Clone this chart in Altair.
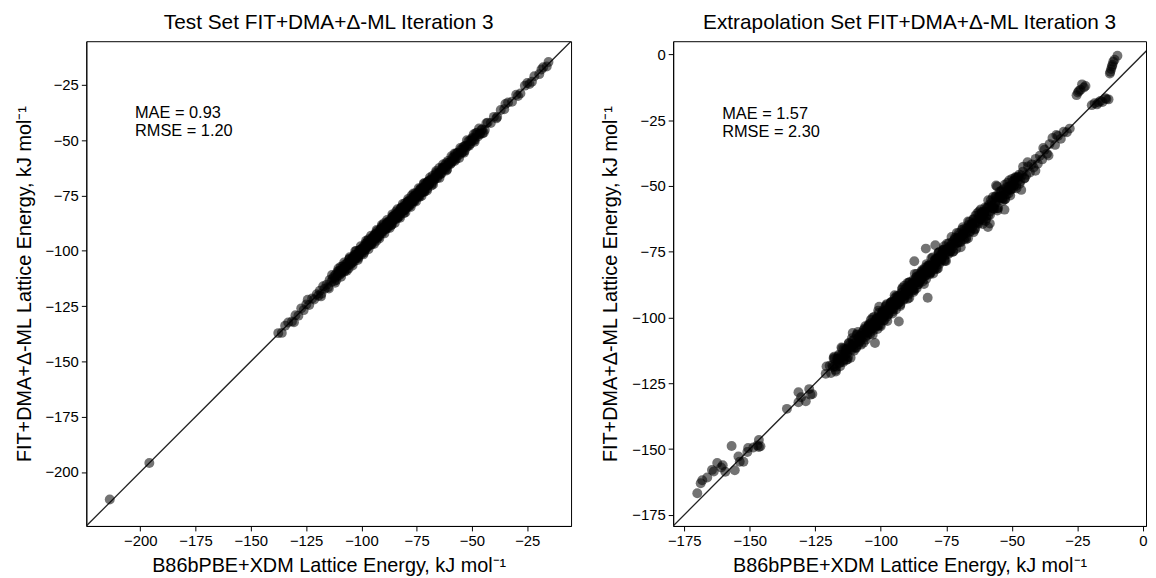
import altair as alt
import pandas as pd

# ---------------- data ----------------
test_ref = [
    -213.8, -195.9,
    -137.6, -136.0, -134.5, -133.1, -131.4, -129.8, -128.5, -127.2, -126.1, -124.9, -123.6, -122.3, -121.4, -120.2,
    -119.5, -118.8, -118.1, -117.3, -116.6, -115.8, -115.1, -114.4, -113.6, -112.9, -112.2, -111.5, -110.8, -110.2,
    -109.6, -109.1, -108.5, -108.0, -107.6, -107.1, -106.5, -106.0, -105.6, -105.0,
    -104.5, -104.1, -103.5, -103.0, -102.6, -102.0, -101.5, -101.1, -100.5, -100.0,
    -99.6, -99.0, -98.5, -98.1, -97.5, -97.0, -96.6, -96.0, -95.5, -95.1,
    -94.5, -94.0, -93.6, -93.0, -92.5, -92.1, -91.5, -91.0, -90.6, -90.0,
    -89.5, -89.1, -88.5, -88.0, -87.6, -87.0, -86.5, -86.1, -85.5, -85.0,
    -84.6, -84.0, -83.5, -83.1, -82.5, -82.0, -81.6, -81.0, -80.5, -80.1,
    -79.5, -79.0, -78.6, -78.0, -77.5, -77.1, -76.5, -76.0, -75.6, -75.0,
    -74.5, -74.1, -73.5, -73.0, -72.6, -72.0, -71.5, -71.1, -70.5, -70.0,
    -69.4, -68.7, -68.1, -67.4, -66.8, -66.1, -65.5, -64.8, -64.2, -63.5,
    -62.9, -62.2, -61.6, -60.9, -60.3,
    -104.8, -104.2, -103.6, -103.0, -102.4, -101.8, -101.2, -100.6, -100.0, -99.4,
    -98.8, -98.2, -97.6, -97.0, -96.4, -95.8, -95.2, -94.6, -94.0, -93.4,
    -92.8, -92.2, -91.6, -91.0, -90.4, -89.8, -89.2, -88.6, -88.0, -87.4,
    -86.8, -86.2, -85.6, -85.0, -84.4, -83.8, -83.2, -82.6, -82.0, -81.4,
    -80.8, -80.2, -79.6, -79.0, -78.4, -77.8, -77.2, -76.6, -76.0, -75.4,
    -74.8, -74.2, -73.6, -73.0, -72.4, -71.8, -71.2, -70.6, -70.0, -69.4,
    -59.5, -58.8, -58.0, -57.3, -56.5, -55.8, -55.0, -54.2, -53.4, -52.5,
    -51.6, -50.7, -49.8, -48.8, -47.7, -46.6, -45.4, -44.2, -42.9, -41.5,
    -40.1, -38.6, -37.0, -35.4, -33.7, -31.9, -30.0, -28.1, -26.1, -24.0,
    -21.8, -19.6, -17.8, -16.2, -15.4,
    -43.5, -39.0, -34.9, -29.2, -25.0, -22.9, -18.6,
]
test_pred = [
    -212.4, -195.9,
    -137.2, -137.1, -133.9, -132.4, -131.9, -129.1, -129.3, -126.0, -126.8, -124.2, -124.5, -121.5, -122.0, -119.6,
    -120.3, -118.0, -119.4, -116.0, -117.1, -115.3, -116.4, -113.2, -114.0, -112.4, -113.6, -110.6, -111.2, -109.1,
    -109.0, -110.1, -107.1, -108.3, -107.4, -108.6, -105.6, -106.6, -103.9, -105.1,
    -104.0, -105.3, -103.5, -101.9, -103.4, -101.7, -103.3, -99.8, -100.9, -99.2,
    -99.8, -98.0, -99.8, -97.7, -98.2, -95.4, -97.1, -95.9, -96.6, -94.4,
    -93.9, -95.0, -92.2, -93.3, -92.3, -93.6, -90.6, -91.6, -88.9, -90.1,
    -89.0, -90.3, -88.5, -86.9, -88.4, -86.7, -88.3, -84.8, -85.9, -84.2,
    -84.8, -83.0, -84.8, -82.7, -83.2, -80.4, -82.1, -80.9, -81.6, -79.4,
    -78.9, -80.0, -77.2, -78.3, -77.3, -78.6, -75.6, -76.6, -73.9, -75.1,
    -74.0, -75.3, -73.5, -71.9, -73.4, -71.7, -73.3, -69.8, -70.9, -69.2,
    -69.6, -67.7, -69.4, -67.0, -67.5, -64.5, -66.0, -64.7, -65.3, -62.8,
    -62.3, -63.2, -60.2, -61.2, -60.1,
    -106.0, -103.5, -103.8, -101.7, -103.2, -101.6, -101.7, -99.7, -101.4, -99.1,
    -98.8, -99.2, -96.5, -97.4, -95.8, -97.4, -94.4, -94.7, -92.6, -94.0,
    -94.0, -91.5, -91.8, -89.7, -91.2, -89.6, -89.7, -87.7, -89.4, -87.1,
    -86.8, -87.2, -84.5, -85.4, -83.8, -85.4, -82.4, -82.7, -80.6, -82.0,
    -82.0, -79.5, -79.8, -77.7, -79.2, -77.6, -77.7, -75.7, -77.4, -75.1,
    -74.8, -75.2, -72.5, -73.4, -71.8, -73.4, -70.4, -70.7, -68.6, -70.0,
    -60.4, -57.9, -58.3, -58.6, -55.6, -56.5, -54.2, -55.3, -52.8, -53.1,
    -50.4, -51.6, -49.3, -49.9, -46.6, -47.3, -45.0, -45.3, -42.0, -42.2,
    -39.4, -39.5, -36.3, -36.0, -32.9, -32.6, -29.4, -28.8, -25.3, -24.6,
    -21.0, -20.1, -17.0, -16.6, -14.6,
    -42.3, -40.1, -33.6, -30.0, -24.1, -23.5, -18.0,
]
# test-set points lying further from the diagonal (edges of the band)
test_ref_edge = [
    -114.7, -113.3, -111.9, -110.4, -109.2, -107.8, -106.6, -105.3, -104.0, -102.8,
    -101.6, -100.3, -99.1, -97.9, -96.8, -95.6, -94.3, -93.1, -91.9, -90.8,
    -89.6, -88.4, -87.2, -86.0, -84.9, -83.7, -82.5, -81.3, -80.1, -78.9,
    -77.7, -76.5, -75.3, -74.1, -72.8, -71.6, -70.3, -69.0, -67.6, -66.2,
    -64.7, -63.1, -61.5, -57.8, -53.6, -49.2, -44.7, -124.3, -118.3, -130.5,
]
test_pred_edge = [
    -117.0, -110.9, -114.4, -108.0, -111.7, -105.3, -109.0, -102.9, -106.6, -100.2,
    -104.1, -97.9, -101.6, -95.4, -99.3, -93.1, -96.9, -90.6, -94.4, -88.3,
    -92.1, -86.0, -89.7, -83.5, -87.4, -81.2, -85.0, -78.8, -82.6, -76.5,
    -80.2, -74.1, -77.7, -71.7, -75.2, -69.3, -72.7, -66.8, -70.0, -63.9,
    -67.0, -60.9, -63.7, -55.9, -55.6, -47.3, -46.6, -122.1, -120.6, -132.3,
]
# test-set points filling the core of the band
test_ref_core = [
    -112.3, -111.8, -111.3, -110.8, -110.3, -109.8, -109.3, -108.8, -108.3, -107.8,
    -107.3, -106.8, -106.3, -105.8, -105.3, -104.8, -104.3, -103.8, -103.3, -102.8,
    -102.3, -101.8, -101.3, -100.8, -100.3, -99.8, -99.3, -98.8, -98.3, -97.8,
    -97.3, -96.8, -96.3, -95.8, -95.3, -94.8, -94.3, -93.8, -93.3, -92.8,
    -92.3, -91.8, -91.3, -90.8, -90.3, -89.8, -89.3, -88.8, -88.3, -87.8,
    -87.3, -86.8, -86.3, -85.8, -85.3, -84.8, -84.3, -83.8, -83.3, -82.8,
    -82.3, -81.8, -81.3, -80.8, -80.3, -79.8, -79.3, -78.8, -78.3, -77.8,
    -77.3, -76.8, -76.3, -75.8, -75.3, -74.8, -74.3, -73.8, -73.3, -72.8,
    -72.3, -71.8, -71.3, -70.8, -70.3, -69.8, -69.3, -68.8, -68.3, -67.8,
    -67.3, -66.8, -66.3, -65.8, -65.3, -64.8, -64.3, -63.8, -63.3, -62.8,
    -62.3, -61.8, -61.3, -60.8, -60.3, -59.8, -59.3, -58.8, -58.3, -57.8,
    -57.3, -56.8, -56.3, -55.8, -55.3, -54.8, -54.3, -53.8, -53.3, -52.8,
    -52.3, -51.8, -51.3, -50.8, -50.3, -49.8, -49.3, -48.8, -48.3, -47.8,
    -47.3, -46.8, -46.3, -45.8, -45.3,
]
test_pred_core = [
    -111.4, -112.2, -113.2, -109.3, -110.1, -110.8, -107.2, -109.5, -107.8, -109.4,
    -106.1, -107.0, -105.6, -108.0, -103.5, -105.7, -104.3, -102.8, -104.7, -102.4,
    -100.0, -102.3, -102.5, -100.0, -100.4, -98.9, -99.7, -100.7, -96.8, -97.6,
    -98.3, -94.7, -97.0, -95.3, -96.9, -93.6, -94.5, -93.1, -95.5, -91.0,
    -93.2, -91.8, -90.3, -92.2, -89.9, -87.5, -89.8, -90.0, -87.5, -87.9,
    -86.4, -87.2, -88.2, -84.3, -85.1, -85.8, -82.2, -84.5, -82.8, -84.4,
    -81.1, -82.0, -80.6, -83.0, -78.5, -80.7, -79.3, -77.8, -79.7, -77.4,
    -75.0, -77.3, -77.5, -75.0, -75.4, -73.9, -74.7, -75.7, -71.8, -72.6,
    -73.3, -69.7, -72.0, -70.3, -71.9, -68.6, -69.5, -68.1, -70.5, -66.0,
    -68.2, -66.8, -65.3, -67.2, -64.9, -62.5, -64.8, -65.0, -62.5, -62.9,
    -61.4, -62.2, -63.2, -59.3, -60.1, -60.8, -57.2, -59.5, -57.8, -59.4,
    -56.1, -57.0, -55.6, -58.0, -53.5, -55.7, -54.3, -52.8, -54.7, -52.4,
    -50.0, -52.3, -52.5, -50.0, -50.4, -48.9, -49.7, -50.7, -46.8, -47.6,
    -48.3, -44.7, -47.0, -45.3, -46.9,
]

ext_ref = [
    -170.0, -168.7, -168.1, -166.2, -164.4, -163.7, -162.4, -160.9, -160.3, -159.3, -155.7,
    -156.9, -154.3, -153.8, -152.4, -150.9, -150.6, -148.6, -147.1, -146.5, -145.9, -146.5,
    -135.8, -131.4, -131.4, -130.4, -128.6, -127.3, -126.8, -126.1, -120.7, -121.0,
    -119.5, -119.0, -118.5, -118.0, -117.5, -117.0, -116.5, -116.0, -115.5, -115.0,
    -114.5, -114.0, -113.5, -113.0, -112.5, -112.0, -111.5, -111.0, -110.5, -110.0,
    -109.5, -109.0, -108.5, -108.0, -107.5, -107.0, -106.5, -106.0, -105.5, -105.0,
    -104.5, -104.0, -103.5, -103.0, -102.5, -102.0, -101.5, -101.0, -100.5, -100.0,
    -99.5, -99.0, -98.5, -98.0, -97.5, -97.0, -96.5, -96.0, -95.5, -95.0,
    -94.5, -94.0, -93.5, -93.0, -92.5, -92.0, -91.5, -91.0, -90.5, -90.0,
    -89.5, -89.0, -88.5, -88.0, -87.5, -87.0, -86.5, -86.0, -85.5, -85.0,
    -84.5, -84.0, -83.5, -83.0, -82.5, -82.0, -81.5, -81.0, -80.5, -80.0,
    -79.5, -79.0, -78.5, -78.0, -77.5, -77.0, -76.5, -76.0, -75.5, -75.0,
    -74.5, -74.0, -73.5, -73.0, -72.5, -72.0, -71.5, -71.0, -70.5, -70.0,
    -69.5, -69.0, -68.5, -68.0, -67.5, -67.0, -66.5, -66.0, -65.5, -65.0,
    -64.5, -64.0, -63.5, -63.0, -62.5, -62.0, -61.5, -61.0, -60.5, -60.0,
    -59.5, -59.0, -58.5, -58.0, -57.5, -57.0, -56.5, -56.0, -55.5, -55.0,
    -54.5, -54.0, -53.5, -53.0, -52.5, -52.0, -51.5, -51.0, -50.5, -50.0,
    -105.2, -104.7, -104.2, -103.7, -103.2, -102.7, -102.2, -101.7, -101.2, -100.7,
    -100.2, -99.7, -99.2, -98.7, -98.2, -97.7, -97.2, -96.7, -96.2, -95.7,
    -95.2, -94.7, -94.2, -93.7, -93.2, -92.7, -92.2, -91.7, -91.2, -90.7,
    -90.2, -89.7, -89.2, -88.7, -88.2, -87.7, -87.2, -86.7, -86.2, -85.7,
    -85.2, -84.7, -84.2, -83.7, -83.2, -82.7, -82.2, -81.7, -81.2, -80.7,
    -80.2, -79.7, -79.2, -78.7, -78.2, -77.7, -77.2, -76.7, -76.2, -75.7,
    -87.2, -82.8, -79.2, -82.1, -102.2, -93.1, -55.6, -58.4, -52.8, -59.1,
    -100.6, -110.7, -113.2, -56.0, -47.7,
    -49.6, -49.0, -48.3, -47.6, -47.0, -46.4, -45.8, -45.1, -44.5, -43.8,
    -43.1, -42.4, -41.7, -40.9, -40.1, -39.3, -38.4, -37.5, -36.6, -35.6,
    -34.5, -33.5, -32.4, -31.3, -30.2, -29.0, -27.9,
    -44.0, -41.0, -38.0, -36.0, -33.0,
    -19.5, -18.4, -17.5, -16.9, -16.2, -15.4, -14.3, -13.9, -13.1,
    -25.3, -24.8, -24.4, -23.8, -23.2, -22.5, -21.9,
    -9.7, -10.8, -11.3, -11.6, -11.8, -12.1, -12.4, -12.6,
]
ext_pred = [
    -166.8, -163.0, -161.8, -160.8, -157.9, -158.5, -155.3, -157.0, -156.1, -158.6, -158.0,
    -148.8, -152.8, -154.8, -154.8, -151.1, -149.6, -149.4, -148.6, -149.2, -148.9, -146.5,
    -134.7, -132.2, -128.4, -130.3, -131.8, -127.2, -129.3, -129.1, -118.6, -121.4,
    -118.3, -121.1, -118.1, -115.4, -118.4, -118.7, -116.5, -114.1, -118.5, -114.2,
    -114.9, -111.8, -114.8, -112.4, -115.0, -110.5, -111.7, -107.9, -111.5, -109.7,
    -111.4, -106.6, -109.1, -107.0, -110.3, -106.8, -104.8, -107.5, -104.6, -105.3,
    -102.5, -106.3, -103.0, -104.1, -99.7, -102.7, -100.2, -103.0, -100.4, -103.3,
    -98.3, -101.1, -98.1, -95.4, -98.4, -98.7, -96.5, -94.1, -98.5, -94.2,
    -94.9, -91.8, -94.8, -92.4, -95.0, -90.5, -91.7, -87.9, -91.5, -89.7,
    -91.4, -86.6, -89.1, -87.0, -90.3, -86.8, -84.8, -87.5, -84.6, -85.3,
    -82.5, -86.3, -83.0, -84.1, -79.7, -82.7, -80.2, -83.0, -80.4, -83.3,
    -78.3, -81.1, -78.1, -75.4, -78.4, -78.7, -76.5, -74.1, -78.5, -74.2,
    -74.9, -71.8, -74.8, -72.4, -75.0, -70.5, -71.7, -67.9, -71.5, -69.7,
    -71.4, -66.6, -69.1, -67.0, -70.3, -66.8, -64.8, -67.5, -64.6, -65.3,
    -62.5, -66.3, -63.0, -64.1, -59.7, -62.7, -60.2, -63.0, -60.4, -63.3,
    -58.3, -61.1, -58.1, -55.4, -58.4, -58.7, -56.5, -54.1, -58.5, -54.2,
    -54.9, -51.8, -54.8, -52.4, -55.0, -50.5, -51.7, -47.9, -51.5, -49.7,
    -106.7, -103.8, -104.5, -102.1, -104.2, -102.5, -102.8, -100.6, -103.0, -100.3,
    -100.2, -101.0, -97.8, -99.2, -97.5, -99.7, -96.2, -96.8, -94.4, -96.5,
    -96.7, -93.8, -94.5, -92.1, -94.2, -92.5, -92.8, -90.6, -93.0, -90.3,
    -90.2, -91.0, -87.8, -89.2, -87.5, -89.7, -86.2, -86.8, -84.4, -86.5,
    -86.7, -83.8, -84.5, -82.1, -84.2, -82.5, -82.8, -80.6, -83.0, -80.3,
    -80.2, -81.0, -77.8, -79.2, -77.5, -79.7, -76.2, -76.8, -74.4, -76.5,
    -78.6, -73.8, -72.5, -92.5, -109.7, -101.5, -50.2, -64.3, -59.0, -65.6,
    -95.9, -105.9, -116.1, -49.8, -48.0,
    -51.0, -47.8, -49.9, -46.5, -49.2, -51.5, -44.6, -47.0, -45.8, -42.6,
    -44.9, -41.8, -43.0, -39.7, -41.6, -38.5, -39.9, -36.2, -37.8, -34.1,
    -31.8, -34.4, -31.0, -32.1, -29.4, -29.6, -28.2,
    -41.0, -44.2, -35.6, -38.4, -30.6,
    -19.3, -18.6, -19.0, -18.3, -17.7, -18.1, -16.7, -17.0, -17.1,
    -15.5, -14.5, -13.9, -13.4, -11.4, -12.6, -12.0,
    -0.5, -2.0, -2.8, -3.9, -4.6, -5.6, -6.6, -7.3,
]
# extrapolation-set points on the outer edges of the dense band
ext_ref_edge = [
    -117.8, -117.1, -116.4, -115.7, -115.0, -114.3, -113.6, -112.9, -112.2, -111.5,
    -110.8, -110.1, -109.4, -108.7, -108.0, -107.3, -106.6, -105.9, -105.2, -104.5,
    -103.8, -103.1, -102.4, -101.7, -101.0, -100.3, -99.6, -98.9, -98.2, -97.5,
    -96.8, -96.1, -95.4, -94.7, -94.0, -93.3, -92.6, -91.9, -91.2, -90.5,
    -89.8, -89.1, -88.4, -87.7, -87.0, -86.3, -85.6, -84.9, -84.2, -83.5,
    -82.8, -82.1, -81.4, -80.7, -80.0, -79.3, -78.6, -77.9, -77.2, -76.5,
    -75.8, -75.1, -74.4, -73.7, -73.0, -72.3, -71.6, -70.9, -70.2, -69.5,
    -68.8, -68.1, -67.4, -66.7, -66.0, -65.3, -64.6, -63.9, -63.2, -62.5,
    -61.8, -61.1, -60.4, -59.7, -59.0, -58.3, -57.6, -56.9, -56.2, -55.5,
    -54.8, -54.1, -53.4, -52.7, -52.0, -51.3, -50.6, -49.9, -49.2, -48.5,
]
ext_pred_edge = [
    -114.9, -120.5, -115.7, -117.3, -111.4, -116.9, -112.2, -113.7, -109.9, -115.3,
    -110.5, -108.3, -111.6, -105.5, -109.2, -106.4, -109.6, -103.3, -105.7, -102.9,
    -100.9, -106.5, -101.7, -103.3, -97.4, -102.9, -98.2, -99.7, -95.9, -101.3,
    -96.5, -94.3, -97.6, -91.5, -95.2, -92.4, -95.6, -89.3, -91.7, -88.9,
    -86.9, -92.5, -87.7, -89.3, -83.4, -88.9, -84.2, -85.7, -81.9, -87.3,
    -82.5, -80.3, -83.6, -77.5, -81.2, -78.4, -81.6, -75.3, -77.7, -74.9,
    -72.9, -78.5, -73.7, -75.3, -69.4, -74.9, -70.2, -71.7, -67.9, -73.3,
    -68.5, -66.3, -69.6, -63.5, -67.2, -64.4, -67.6, -61.3, -63.7, -60.9,
    -58.9, -64.5, -59.7, -61.3, -55.4, -60.9, -56.2, -57.7, -53.9, -59.3,
    -54.5, -52.3, -55.6, -49.5, -53.2, -50.4, -53.6, -47.3, -49.7, -46.9,
]
# extrapolation-set points filling the core of the band
ext_ref_core = [
    -118.2, -117.7, -117.2, -116.7, -116.2, -115.7, -115.2, -114.7, -114.2, -113.7,
    -113.2, -112.7, -112.2, -111.7, -111.2, -110.7, -110.2, -109.7, -109.2, -108.7,
    -108.2, -107.7, -107.2, -106.7, -106.2, -105.7, -105.2, -104.7, -104.2, -103.7,
    -103.2, -102.7, -102.2, -101.7, -101.2, -100.7, -100.2, -99.7, -99.2, -98.7,
    -98.2, -97.7, -97.2, -96.7, -96.2, -95.7, -95.2, -94.7, -94.2, -93.7,
    -93.2, -92.7, -92.2, -91.7, -91.2, -90.7, -90.2, -89.7, -89.2, -88.7,
    -88.2, -87.7, -87.2, -86.7, -86.2, -85.7, -85.2, -84.7, -84.2, -83.7,
    -83.2, -82.7, -82.2, -81.7, -81.2, -80.7, -80.2, -79.7, -79.2, -78.7,
    -78.2, -77.7, -77.2, -76.7, -76.2, -75.7, -75.2, -74.7, -74.2, -73.7,
    -73.2, -72.7, -72.2, -71.7, -71.2, -70.7, -70.2, -69.7, -69.2, -68.7,
    -68.2, -67.7, -67.2, -66.7, -66.2, -65.7, -65.2, -64.7, -64.2, -63.7,
    -63.2, -62.7, -62.2, -61.7, -61.2, -60.7, -60.2, -59.7, -59.2, -58.7,
    -58.2, -57.7, -57.2, -56.7, -56.2, -55.7, -55.2, -54.7, -54.2, -53.7,
    -53.2, -52.7, -52.2, -51.7, -51.2, -50.7, -50.2, -49.7, -49.2, -48.7,
    -48.2, -47.7, -47.2, -46.7, -46.2, -45.7, -45.2,
]
ext_pred_core = [
    -118.8, -115.7, -119.9, -115.8, -114.7, -117.1, -115.0, -111.7, -116.2, -114.0,
    -112.1, -115.9, -109.7, -111.2, -112.2, -108.8, -112.6, -109.7, -106.4, -110.4,
    -107.6, -108.6, -105.9, -107.3, -104.2, -108.4, -104.3, -103.2, -105.6, -103.5,
    -100.2, -104.7, -102.5, -100.6, -104.4, -98.2, -99.7, -100.7, -97.3, -101.1,
    -98.2, -94.9, -98.9, -96.1, -97.1, -94.4, -95.8, -92.7, -96.9, -92.8,
    -91.7, -94.1, -92.0, -88.7, -93.2, -91.0, -89.1, -92.9, -86.7, -88.2,
    -89.2, -85.8, -89.6, -86.7, -83.4, -87.4, -84.6, -85.6, -82.9, -84.3,
    -81.2, -85.4, -81.3, -80.2, -82.6, -80.5, -77.2, -81.7, -79.5, -77.6,
    -81.4, -75.2, -76.7, -77.7, -74.3, -78.1, -75.2, -71.9, -75.9, -73.1,
    -74.1, -71.4, -72.8, -69.7, -73.9, -69.8, -68.7, -71.1, -69.0, -65.7,
    -70.2, -68.0, -66.1, -69.9, -63.7, -65.2, -66.2, -62.8, -66.6, -63.7,
    -60.4, -64.4, -61.6, -62.6, -59.9, -61.3, -58.2, -62.4, -58.3, -57.2,
    -59.6, -57.5, -54.2, -58.7, -56.5, -54.6, -58.4, -52.2, -53.7, -54.7,
    -51.3, -55.1, -52.2, -48.9, -52.9, -50.1, -51.1, -48.4, -49.8, -46.7,
    -50.9, -46.8, -45.7, -48.1, -46.0, -42.7, -47.2,
]

# axis limits and ticks
test_xlim = [-224.4, -5.2]
test_ylim = [-224.4, -5.2]
ext_xlim = [-179.2, 1.2]
ext_ylim = [-179.2, 5.0]
test_ticks = [-200, -175, -150, -125, -100, -75, -50, -25]
ext_ticks = [-175, -150, -125, -100, -75, -50, -25, 0]

# y = x reference line end points
diag_test = [-224.4, -5.2]
diag_ext = [-179.2, 5.0]

# annotations
test_ann_text = ["MAE = 0.93", "RMSE = 1.20"]
test_ann_x = [-202.4, -202.4]
test_ann_y = [-37.7, -45.9]
ext_ann_text = ["MAE = 1.57", "RMSE = 2.30"]
ext_ann_x = [-160.5, -160.5]
ext_ann_y = [-22.5, -29.7]

titles = ["Test Set FIT+DMA+\u0394-ML Iteration 3",
          "Extrapolation Set FIT+DMA+\u0394-ML Iteration 3"]
x_title = "B86bPBE+XDM Lattice Energy, kJ mol\u207b\u00b9"
y_title = "FIT+DMA+\u0394-ML Lattice Energy, kJ mol\u207b\u00b9"

FONT = "Liberation Sans"


def panel(ref, pred, xlim, ylim, ticks, diag, ax_, ay_, at_, title, w, h):
    pts = pd.DataFrame({"ref": ref, "pred": pred})
    line = pd.DataFrame({"ref": diag, "pred": diag})
    ann = pd.DataFrame({"ref": ax_, "pred": ay_, "label": at_})

    xs = alt.Scale(domain=xlim, nice=False, zero=False)
    ys = alt.Scale(domain=ylim, nice=False, zero=False)
    xa = alt.Axis(values=ticks, title=x_title, labelFlush=False, titlePadding=7)
    ya = alt.Axis(values=ticks, title=y_title, labelFlush=False, titlePadding=11)

    diag_l = alt.Chart(line).mark_line(color="#222222", strokeWidth=1.3, clip=True).encode(
        x=alt.X("ref:Q", scale=xs, axis=xa),
        y=alt.Y("pred:Q", scale=ys, axis=ya),
    )
    dots = alt.Chart(pts).mark_circle(size=100, opacity=0.55, color="black", clip=True).encode(
        x=alt.X("ref:Q", scale=xs, axis=xa),
        y=alt.Y("pred:Q", scale=ys, axis=ya),
    )
    txt = alt.Chart(ann).mark_text(align="left", baseline="middle", fontSize=16.5,
                                   font=FONT, color="black").encode(
        x=alt.X("ref:Q", scale=xs, axis=xa),
        y=alt.Y("pred:Q", scale=ys, axis=ya),
        text="label:N",
    )
    return alt.layer(diag_l, dots, txt).properties(
        width=w, height=h,
        title=alt.TitleParams(title, fontSize=21, fontWeight="normal", font=FONT,
                              anchor="middle", frame="group", offset=8, color="black"),
    )


left = panel(test_ref + test_ref_edge + test_ref_core,
             test_pred + test_pred_edge + test_pred_core,
             test_xlim, test_ylim, test_ticks, diag_test,
             test_ann_x, test_ann_y, test_ann_text, titles[0], 489, 489)
right = panel(ext_ref + ext_ref_edge + ext_ref_core,
              ext_pred + ext_pred_edge + ext_pred_core,
              ext_xlim, ext_ylim, ext_ticks, diag_ext,
              ext_ann_x, ext_ann_y, ext_ann_text, titles[1], 477, 489)

chart = alt.hconcat(left, right, spacing=28).properties(
    padding={"left": 5, "top": 1, "right": 0, "bottom": 0}
).configure(font=FONT).configure_view(
    stroke="black", strokeWidth=1
).configure_axis(
    grid=False, domainColor="black", tickColor="black", tickSize=5, tickWidth=1,
    labelFontSize=15, labelColor="black", labelPadding=3, labelFont=FONT,
    titleFontSize=20, titleFontWeight="normal", titleColor="black", titleFont=FONT,
)

chart.save("out.html", embed_options={"renderer": "svg", "actions": False})
